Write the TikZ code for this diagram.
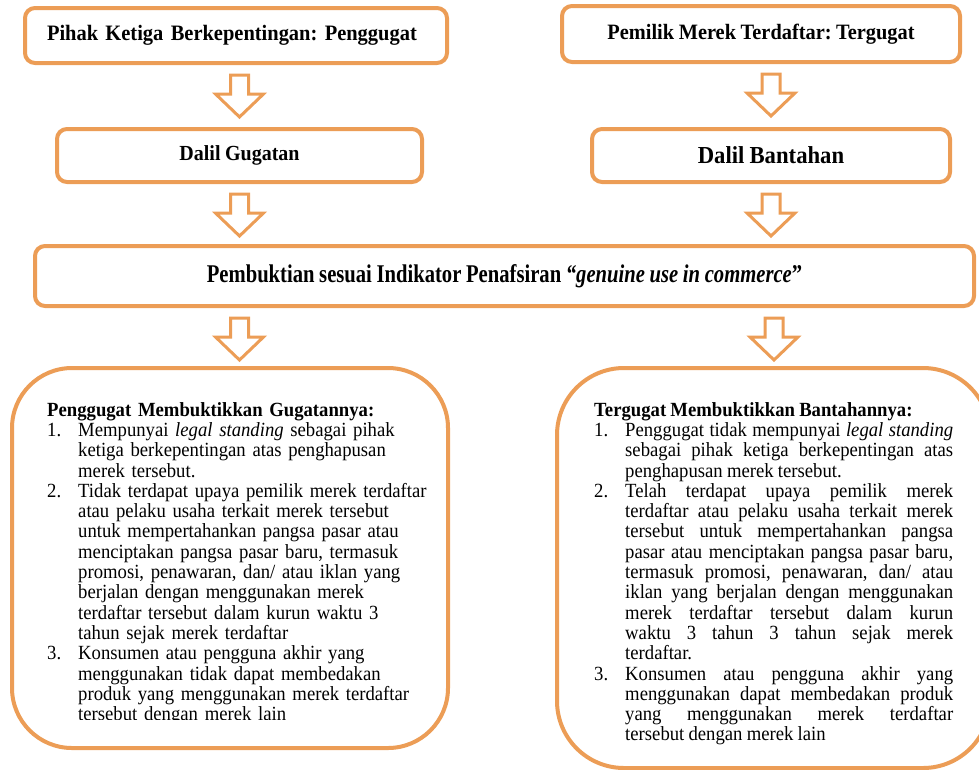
\documentclass[tikz,border=0pt]{standalone}
\usepackage{fontspec}
\setmainfont{Liberation Serif}[FakeStretch=0.93, WordSpace=0.9]
\usetikzlibrary{calc}

\definecolor{oren}{RGB}{236,157,86}

\tikzset{
  box/.style={draw=oren, line width=4pt, rounded corners=10pt, fill=white, inner sep=0pt},
  bigbox/.style={draw=oren, line width=4pt, rounded corners=60pt, fill=white, inner sep=0pt},
  isi/.style={anchor=north west, inner sep=0pt, font=\fontsize{20.1}{20.3}\selectfont},
  blockarrow/.style={draw=oren, line width=3pt, fill=white, line join=miter}
}

% hollow down arrow, #1 = top middle of the shaft
\newcommand{\blockarrow}[1]{%
  \draw[blockarrow] #1 ++(-9,0) -- ++(18,0) -- ++(0,-19) -- ++(15,0)
    -- ++(-24,-23) -- ++(-24,23) -- ++(15,0) -- cycle;}
% numbered item with hanging indent
\newcommand{\butir}[1]{\par\hangindent=31pt\hangafter=1\noindent\makebox[31pt][l]{#1}}

\frenchspacing
\begin{document}
\begin{tikzpicture}[x=1pt,y=1pt]
  \useasboundingbox (0,0) rectangle (979,-769);
  \clip (0,0) rectangle (979,-769);

  \node[box, minimum width=422pt, minimum height=55pt, text width=378pt, align=left,
        font=\fontsize{22}{26}\selectfont\bfseries] (pihak) at (236,-35.5)
        {Pihak Ketiga Berkepentingan: Penggugat};
  \node[box, minimum width=398pt, minimum height=56pt,
        font=\fontsize{21.9}{26}\selectfont\bfseries] (tergugat) at (761,-34)
        {Pemilik Merek Terdaftar: Tergugat};
  \node[box, minimum width=365pt, minimum height=53pt,
        font=\fontsize{21.5}{26}\selectfont\bfseries] (gugatan) at (239.5,-155.5)
        {Dalil Gugatan};
  \node[box, minimum width=358pt, minimum height=53pt,
        font=\fontsize{24.4}{28}\selectfont\bfseries] (bantahan) at (771,-155.5)
        {Dalil Bantahan};
  \node[box, minimum width=939pt, minimum height=60pt,
        font=\fontsize{25.5}{30}\selectfont\bfseries] (pembuktian) at (504.5,-276)
        {\scalebox{0.87}[1]{Pembuktian sesuai Indikator Penafsiran \textit{“genuine use in commerce}”}};

  \blockarrow{($(pihak.south -| gugatan.north)+(0,-10)$)}
  \blockarrow{($(tergugat.south -| bantahan.north)+(0,-10)$)}
  \blockarrow{($(gugatan.south)+(0,-10)$)}
  \blockarrow{($(bantahan.south)+(0,-10)$)}
  \blockarrow{($(pembuktian.south -| gugatan.south)+(0,-10)$)}
  \blockarrow{($(pembuktian.south -| bantahan.south)+(3,-10)$)}

  \node[bigbox, minimum width=436pt, minimum height=380pt] (kiri) at (230,-558) {};
  \node[bigbox, rounded corners=67pt, minimum width=433pt, minimum height=400pt] (kanan) at (773.5,-568) {};

  \begin{scope}
    \clip (0,-719) rectangle (979,0);
    \node[isi, text width=385pt, align=left] (kiriisi) at (47,-402) {%
      \parskip=0pt
      \textbf{Penggugat Membuktikkan Gugatannya:}
      \butir{1.}Mempunyai \textit{legal standing} sebagai pihak\newline
      ketiga berkepentingan atas penghapusan\newline
      merek tersebut.
      \butir{2.}Tidak terdapat upaya pemilik merek terdaftar\newline
      atau pelaku usaha terkait merek tersebut\newline
      untuk mempertahankan pangsa pasar atau\newline
      menciptakan pangsa pasar baru, termasuk\newline
      promosi, penawaran, dan/ atau iklan yang\newline
      berjalan dengan menggunakan merek\newline
      terdaftar tersebut dalam kurun waktu 3\newline
      tahun sejak merek terdaftar
      \butir{3.}Konsumen atau pengguna akhir yang\newline
      menggunakan tidak dapat membedakan\newline
      produk yang menggunakan merek terdaftar\newline
      tersebut dengan merek lain\par};
  \end{scope}

  \node[isi, text width=359pt, align=justify] (kananisi) at (594,-402) {%
    \parskip=0pt
    \textbf{Tergugat Membuktikkan Bantahannya:}
    \butir{1.}Penggugat tidak mempunyai \textit{legal standing}\linebreak
    sebagai pihak ketiga berkepentingan atas\linebreak
    penghapusan merek tersebut.
    \butir{2.}Telah terdapat upaya pemilik merek\linebreak
    terdaftar atau pelaku usaha terkait merek\linebreak
    tersebut untuk mempertahankan pangsa\linebreak
    pasar atau menciptakan pangsa pasar baru,\linebreak
    termasuk promosi, penawaran, dan/ atau\linebreak
    iklan yang berjalan dengan menggunakan\linebreak
    merek terdaftar tersebut dalam kurun\linebreak
    waktu 3 tahun 3 tahun sejak merek\linebreak
    terdaftar.
    \butir{3.}Konsumen atau pengguna akhir yang\linebreak
    menggunakan dapat membedakan produk\linebreak
    yang menggunakan merek terdaftar\linebreak
    tersebut dengan merek lain\par};
\end{tikzpicture}
\end{document}
